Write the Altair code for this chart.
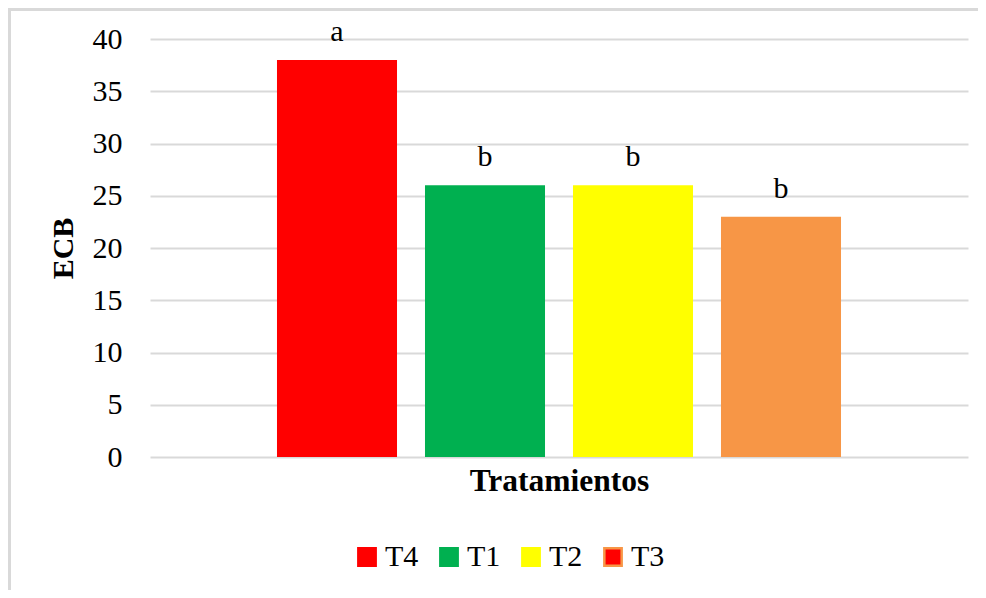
import altair as alt
import pandas as pd

categories = ["T4", "T1", "T2", "T3"]
values = [38, 26, 26, 23]
letters = ["a", "b", "b", "b"]
bar_colors = ["#FF0000", "#00B050", "#FFFF00", "#F79646"]
legend_fill = ["#FF0000", "#00B050", "#FFFF00", "#FF0000"]
legend_stroke = ["#FF0000", "#00B050", "#FFFF00", "#F79646"]
y_ticks = [0, 5, 10, 15, 20, 25, 30, 35, 40]

df = pd.DataFrame({"T": categories, "ECB": values, "letra": letters})

FONT = "Liberation Serif"
W, H = 818, 418

x_enc = alt.X(
    "T:N",
    sort=categories,
    scale=alt.Scale(domain=categories, paddingInner=0.189, paddingOuter=0.858),
    axis=alt.Axis(
        labels=False, ticks=False, domain=False, grid=False,
        title="Tratamientos", titleFont=FONT, titleFontSize=31.5,
        titleFontWeight="bold", titleColor="#000000",
        titleBaseline="middle", titleY=24,
    ),
)
y_scale = alt.Scale(domain=[0, 40], nice=False)
y_enc = alt.Y(
    "ECB:Q",
    scale=y_scale,
    axis=alt.Axis(
        values=y_ticks, ticks=False, domain=False, grid=True,
        gridColor="#d9d9d9", gridWidth=2,
        labelFont=FONT, labelFontSize=30, labelColor="#000000", labelPadding=28,
        title="ECB", titleFont=FONT, titleFontSize=30, titleFontWeight="bold",
        titleColor="#000000", titleAngle=-90, titleAlign="center",
        titleBaseline="middle", titleX=-87, titleY=H / 2,
    ),
)

legend = alt.Legend(
    title=None, orient="none", legendX=202, legendY=503, direction="horizontal",
    symbolType="square", symbolSize=300, symbolStrokeWidth=2.5,
    labelFont=FONT, labelFontSize=30, labelColor="#000000",
    labelOffset=3, columnPadding=15, padding=0,
)

base = alt.Chart(df)

# hidden squares (covered by the bars) that only drive the legend
dummy = base.mark_point(shape="square", filled=True, opacity=1, size=60).encode(
    x=x_enc,
    y=alt.datum(3, scale=y_scale),
    fill=alt.Fill("T:N", sort=categories,
                  scale=alt.Scale(domain=categories, range=legend_fill), legend=legend),
    stroke=alt.Stroke("T:N", sort=categories,
                      scale=alt.Scale(domain=categories, range=legend_stroke), legend=legend),
)

bars = base.mark_bar().encode(
    x=x_enc,
    y=y_enc,
    color=alt.Color("T:N", sort=categories,
                    scale=alt.Scale(domain=categories, range=bar_colors), legend=None),
)

labels = base.mark_text(font=FONT, fontSize=30, color="#000000",
                        baseline="alphabetic", dy=-19).encode(
    x=x_enc, y=y_enc, text="letra:N",
)

# chart frame (only its left and top edges fall inside the picture), drawn as thin filled strips
frame_df = pd.DataFrame({"k": [0]})
frame_left = alt.Chart(frame_df).mark_rect(color="#d9d9d9", strokeWidth=0).encode(
    x=alt.value(-142), x2=alt.value(-139), y=alt.value(-31), y2=alt.value(551),
)
frame_top = alt.Chart(frame_df).mark_rect(color="#d9d9d9", strokeWidth=0).encode(
    x=alt.value(-142), x2=alt.value(828), y=alt.value(-31), y2=alt.value(-28),
)

chart = alt.layer(frame_left, frame_top, dummy, bars, labels).properties(
    width=W, height=H,
    autosize=alt.AutoSizeParams(type="none"),
    padding={"left": 142, "top": 31, "right": 10, "bottom": 133},
    background="#ffffff",
).configure_view(stroke=None)

chart.save("out.html", embed_options={"renderer": "svg", "actions": False})
